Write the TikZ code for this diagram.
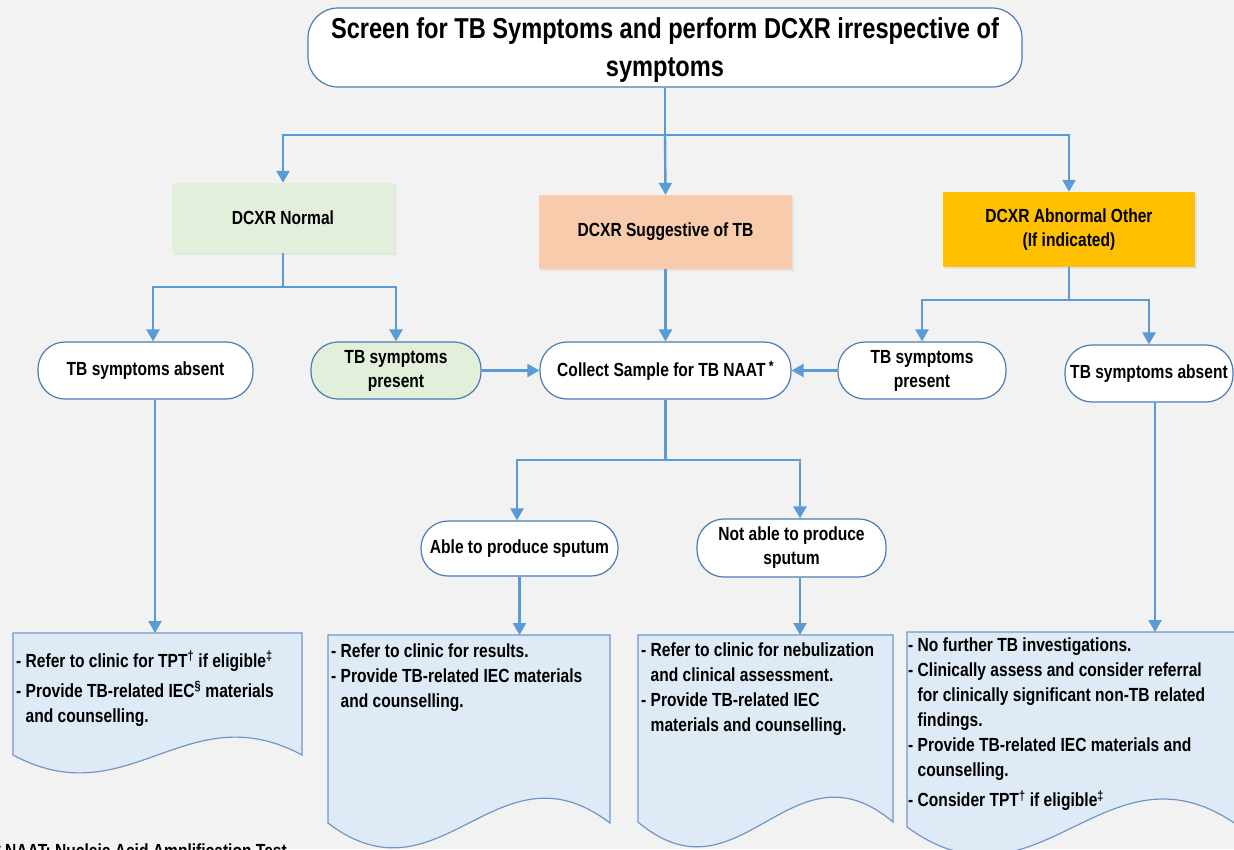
\documentclass[tikz,border=0pt]{standalone}
\usepackage{fontspec}
\setmainfont{Liberation Sans}[FakeStretch=0.82]
\usetikzlibrary{arrows.meta,shadows,calc}
\definecolor{bg}{HTML}{F2F2F2}
\definecolor{ln}{HTML}{5B9BD5}
\definecolor{bd}{HTML}{4A7DB5}
\definecolor{gr}{HTML}{E2EFDA}
\definecolor{orf}{HTML}{F8CBAD}
\definecolor{gd}{HTML}{FFC000}
\definecolor{dc}{HTML}{DEEBF7}
\definecolor{dcb}{HTML}{7096C8}
\newcommand\nf{\bfseries\fontsize{19}{24}\selectfont}
\newcommand\ttlf{\bfseries\fontsize{28.8}{38}\selectfont}
\newcommand\docf{\bfseries\fontsize{19}{25}\selectfont}
\begin{document}
\begin{tikzpicture}[x=1pt,y=-1pt,
  conn/.style={draw=ln,line width=2.4pt},
  arr/.style={conn,-{Triangle[width=13pt,length=12pt]}},
  pill/.style={draw=bd,line width=1.2pt,fill=white,rounded corners=27pt,inner sep=0pt,align=center,font=\nf},
  cbox/.style={inner sep=0pt,align=center,font=\nf,drop shadow={opacity=0.12,shadow xshift=2pt,shadow yshift=-2pt}},
  docshape/.style={draw=dcb,line width=1.2pt,fill=dc},
  doctext/.style={inner sep=0pt,align=left,font=\docf,anchor=north west}]
\fill[bg] (0,0) rectangle (1234,849);
\useasboundingbox (0,0) rectangle (1234,849);

% nodes
\node[pill,minimum width=714pt,minimum height=79pt,rounded corners=30pt,font=\ttlf,text depth=0pt] (top) at (665,47.5) {Screen for TB Symptoms and perform DCXR irrespective of\\symptoms};
\node[cbox,fill=gr,minimum width=222pt,minimum height=70pt] (nor) at (283,218) {DCXR Normal};
\node[cbox,fill=orf,minimum width=253pt,minimum height=74pt] (sug) at (665.5,232) {DCXR Suggestive of TB};
\node[cbox,fill=gd,minimum width=252pt,minimum height=75pt] (abn) at (1069,229.5) {DCXR Abnormal Other\\(If indicated)};
\node[pill,minimum width=215pt,minimum height=57pt] (absL) at (145.5,370.5) {TB symptoms absent};
\node[pill,fill=gr,minimum width=170pt,minimum height=57pt] (presL) at (396,370.5) {TB symptoms\\present};
\node[pill,minimum width=251pt,minimum height=57pt] (col) at (665.5,370.5) {Collect Sample for TB NAAT\raisebox{5pt}{\fontsize{15}{15}\selectfont\ *}};
\node[pill,minimum width=168pt,minimum height=57pt] (presR) at (922,370.5) {TB symptoms\\present};
\node[pill,minimum width=168pt,minimum height=57pt] (absR) at (1149,373.5) {TB symptoms absent};
\node[pill,minimum width=197pt,minimum height=55pt] (able) at (519.5,548.5) {Able to produce sputum};
\node[pill,minimum width=189pt,minimum height=58pt] (nab) at (791.5,548) {Not able to produce\\sputum};

% documents
\draw[docshape] (13,633) -- (302,633) -- (302,755) .. controls (13+0.6*289,755-62) and (13+0.4*289,755+62) .. (13,755) -- cycle;
\draw[docshape] (328,635) -- (610,635) -- (610,823) .. controls (328+0.6*282,823-86) and (328+0.4*282,823+86) .. (328,823) -- cycle;
\draw[docshape] (638,635) -- (893,635) -- (893,822) .. controls (638+0.6*255,822-86) and (638+0.4*255,822+86) .. (638,822) -- cycle;
\draw[docshape] (907,632) -- (1240,632) -- (1240,827) .. controls (907+0.6*333,827-97) and (907+0.4*333,827+97) .. (907,827) -- cycle;
\coordinate (dL) at (155,633);
\coordinate (d1) at (519.5,635);
\coordinate (d2) at (800,635);
\coordinate (dR) at (1155,632);

\node[doctext] (tL) at (16,651) {- Refer to clinic for TPT\textsuperscript{†} if eligible\textsuperscript{‡}\\[5pt]- Provide TB-related IEC\textsuperscript{§} materials\\\phantom{- }and counselling.};
\node[doctext] (t1) at (331,644) {- Refer to clinic for results.\\- Provide TB-related IEC materials\\\phantom{- }and counselling.};
\node[doctext] (t2) at (641,643) {- Refer to clinic for nebulization\\\phantom{- }and clinical assessment.\\- Provide TB-related IEC\\\phantom{- }materials and counselling.};
\node[doctext] (tR) at (908,638) {- No further TB investigations.\\- Clinically assess and consider referral\\\phantom{- }for clinically significant non-TB related\\\phantom{- }findings.\\- Provide TB-related IEC materials and\\\phantom{- }counselling.\\[5pt]- Consider TPT\textsuperscript{†} if eligible\textsuperscript{‡}};

\node[inner sep=0pt,anchor=base west,font=\nf] (foot) at (-5.4,857) {* NAAT: Nucleic Acid Amplification Test};

% connectors
\coordinate (s0) at (665,135);
\coordinate (s1) at (283,287);
\coordinate (s2) at (1069,300);
\coordinate (s3) at (665.5,460);
\draw[conn] (top.south) -- (s0);
\draw[arr] (s0) -| (nor.north);
\draw[arr] (s0) -- (sug.north);
\draw[arr] (s0) -| (abn.north);
\draw[conn] (nor.south) -- (s1);
\draw[arr] (s1) -| ([xshift=7.5pt]absL.north);
\draw[arr] (s1) -| (presL.north);
\draw[arr] (sug.south) -- (col.north);
\draw[arr] (presL.east) -- (col.west);
\draw[arr] (presR.west) -- (col.east);
\draw[conn] (abn.south) -- (s2);
\draw[arr] (s2) -| (presR.north);
\draw[arr] (s2) -| (absR.north);
\draw[conn] (col.south) -- (s3);
\draw[arr] (s3) -| ([xshift=-2.5pt]able.north);
\draw[arr] (s3) -| ([xshift=8.5pt]nab.north);
\draw[arr] (able.south) -- (d1);
\draw[arr] ([xshift=8.5pt]nab.south) -- (d2);
\draw[arr] ([xshift=9.5pt]absL.south) -- (dL);
\draw[arr] ([xshift=6pt]absR.south) -- (dR);
\end{tikzpicture}
\end{document}
